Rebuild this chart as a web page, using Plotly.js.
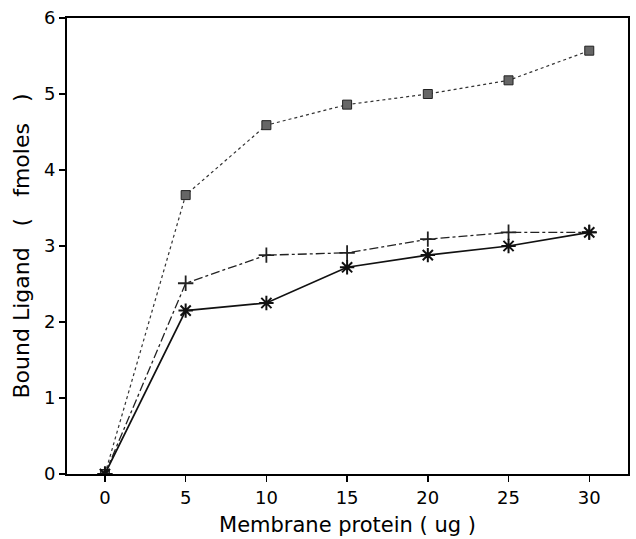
<!DOCTYPE html>
<html>
<head>
<meta charset="utf-8">
<script src="https://cdn.plot.ly/plotly-3.0.1.min.js"></script>
<style>html,body{margin:0;padding:0;background:#fff;}#chart{width:636px;height:539px;}</style>
</head>
<body>
<div id="chart"></div>
<script>
const protein = [0, 5, 10, 15, 20, 25, 30];
const boundSquares = [0, 3.67, 4.59, 4.86, 5.0, 5.18, 5.57];
const boundPlus = [0, 2.51, 2.88, 2.91, 3.09, 3.18, 3.18];
const boundStar = [0, 2.15, 2.25, 2.72, 2.88, 3.0, 3.18];
const xTicks = [0, 5, 10, 15, 20, 25, 30];
const yTicks = [0, 1, 2, 3, 4, 5, 6];
const xTitle = 'Membrane protein ( ug )';
const yTitle = 'Bound Ligand \u00A0\u00A0( \u00A0\u00A0fmoles \u00A0\u00A0)';

const traces = [
  {x: protein, y: boundSquares, mode: 'lines+markers', name: 'A',
   line: {color: '#333', width: 1.2, dash: 'dot'},
   marker: {symbol: 'square', size: 9, color: '#666', line: {color: '#222', width: 1}}},
  {x: protein, y: boundPlus, mode: 'lines+markers', name: 'B',
   line: {color: '#222', width: 1.3, dash: 'dashdot'},
   marker: {symbol: 'cross-thin-open', size: 11, line: {color: '#111', width: 1.8}}},
  {x: protein, y: boundStar, mode: 'lines+markers', name: 'C',
   line: {color: '#111', width: 1.7},
   marker: {symbol: 'asterisk-open', size: 12, line: {color: '#111', width: 2}}}
];

const font = {family: 'DejaVu Sans, sans-serif', color: '#000'};
const layout = {
  width: 636, height: 539,
  margin: {l: 67, r: 8, t: 18, b: 65},
  showlegend: false,
  paper_bgcolor: '#fff', plot_bgcolor: '#fff',
  font: font,
  xaxis: {
    range: [-2.35, 32.4], tickvals: xTicks, ticktext: xTicks.map(String),
    ticks: 'outside', ticklen: 6, tickwidth: 1.5, tickcolor: '#000',
    showline: true, linecolor: '#000', linewidth: 2, mirror: true,
    showgrid: false, zeroline: false,
    tickfont: {size: 18, family: font.family},
    title: {text: xTitle, font: {size: 21, family: font.family}, standoff: 11}
  },
  yaxis: {
    range: [0, 6], tickvals: yTicks, ticktext: yTicks.map(String),
    ticks: 'outside', ticklen: 6, tickwidth: 1.5, tickcolor: '#000',
    showline: true, linecolor: '#000', linewidth: 2, mirror: true,
    showgrid: false, zeroline: false,
    tickfont: {size: 18, family: font.family},
    title: {text: yTitle, font: {size: 22, family: font.family}, standoff: 8}
  }
};
Plotly.newPlot('chart', traces, layout, {staticPlot: true, displayModeBar: false});
</script>
</body>
</html>
